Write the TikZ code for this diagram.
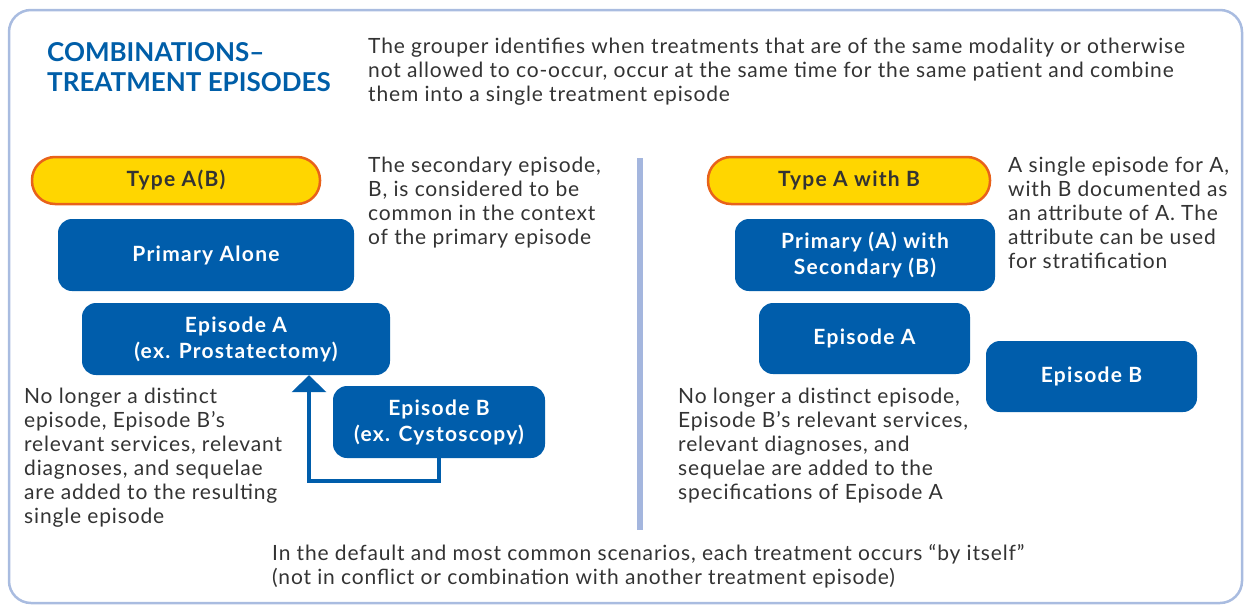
\documentclass[tikz,border=0pt]{standalone}
\usepackage{fontspec}
\setmainfont{Lato}[LetterSpace=4]
\newfontfamily\boxfont{Lato}[LetterSpace=6,BoldFont={Lato Bold}]
\newfontfamily\titlefont{Lato}[BoldFont={Lato Bold}]
\usetikzlibrary{arrows.meta}
\definecolor{boxblue}{HTML}{005DAB}
\definecolor{titleblue}{HTML}{005EA8}
\definecolor{pillyellow}{HTML}{FFD600}
\definecolor{pillorange}{HTML}{E8621A}
\definecolor{frameblue}{HTML}{A9BCE0}
\definecolor{divblue}{HTML}{A4B6DE}
\definecolor{bodygrey}{HTML}{333333}
\tikzset{
  bluebox/.style={fill=boxblue, draw=none, rounded corners=14pt, text=white,
    font=\boxfont\fontsize{21}{26}\selectfont\bfseries, align=center, inner sep=0pt},
  pill/.style={fill=pillyellow, draw=pillorange, line width=2.5pt, rounded corners=23pt,
    text=bodygrey, font=\boxfont\fontsize{21}{24}\selectfont\bfseries, align=center, inner sep=0pt,
    minimum height=47pt},
  body/.style={text=bodygrey, font=\fontsize{21}{24}\selectfont, align=left,
    anchor=north west, inner sep=0pt},
  flow/.style={draw=boxblue, line width=4pt, -{Triangle[width=34pt,length=17pt]}},
}
\begin{document}
\begin{tikzpicture}[x=1pt,y=-1pt]
\useasboundingbox (0,0) rectangle (1244,605);
\draw[frameblue, line width=2.5pt, rounded corners=22pt] (9,10) rectangle (1242,603);
\node[anchor=north west, inner sep=0pt, text=titleblue, align=left,
  font=\titlefont\fontsize{26}{30}\selectfont\bfseries] (title) at (47,42)
  {COMBINATIONS–\\TREATMENT EPISODES};
\node[body] (intro) at (368,38)
  {The grouper identifies when treatments that are of the same modality or otherwise\\
   not allowed to co-occur, occur at the same time for the same patient and combine\\
   them into a single treatment episode};
% left side
\node[pill, minimum width=288pt] (typeAB) at (176,180.5) {Type A(B)};
\node[bluebox, minimum width=296pt, minimum height=72pt] (primalone) at (206,255) {Primary Alone};
\node[bluebox, minimum width=308pt, minimum height=72pt] (epA) at (236,339) {Episode A\\(ex. Prostatectomy)};
\node[bluebox, minimum width=212pt, minimum height=72pt] (epB) at (439,422) {Episode B\\(ex. Cystoscopy)};
\coordinate (bend) at (309,481);
\draw[flow] (epB.south) |- (bend) -- (bend |- epA.south);
\node[body] (secnote) at (368,157)
  {The secondary episode,\\B, is considered to be\\common in the context\\of the primary episode};
\node[body] (leftnote) at (24,388)
  {No longer a distinct\\episode, Episode B’s\\relevant services, relevant\\diagnoses, and sequelae\\are added to the resulting\\single episode};
% divider
\draw[divblue, line width=6pt] (640,158) -- (640,530);
% right side
\node[pill, minimum width=282pt] (typeAwB) at (849,180.5) {Type A with B};
\node[bluebox, minimum width=260pt, minimum height=72pt] (primsec) at (865,255) {Primary (A) with\\Secondary (B)};
\node[bluebox, minimum width=211pt, minimum height=71pt] (epA2) at (864.5,338.5) {Episode A};
\node[bluebox, minimum width=211pt, minimum height=71pt] (epB2) at (1091.5,376.5) {Episode B};
\node[body] (attrnote) at (1008,157)
  {A single episode for A,\\with B documented as\\an attribute of A. The\\attribute can be used\\for stratification};
\node[body] (rightnote) at (678,388)
  {No longer a distinct episode,\\Episode B’s relevant services,\\relevant diagnoses, and\\sequelae are added to the\\specifications of Episode A};
% bottom
\node[body] (bottomnote) at (272,544)
  {In the default and most common scenarios, each treatment occurs “by itself”\\(not in conflict or combination with another treatment episode)};
\end{tikzpicture}
\end{document}
